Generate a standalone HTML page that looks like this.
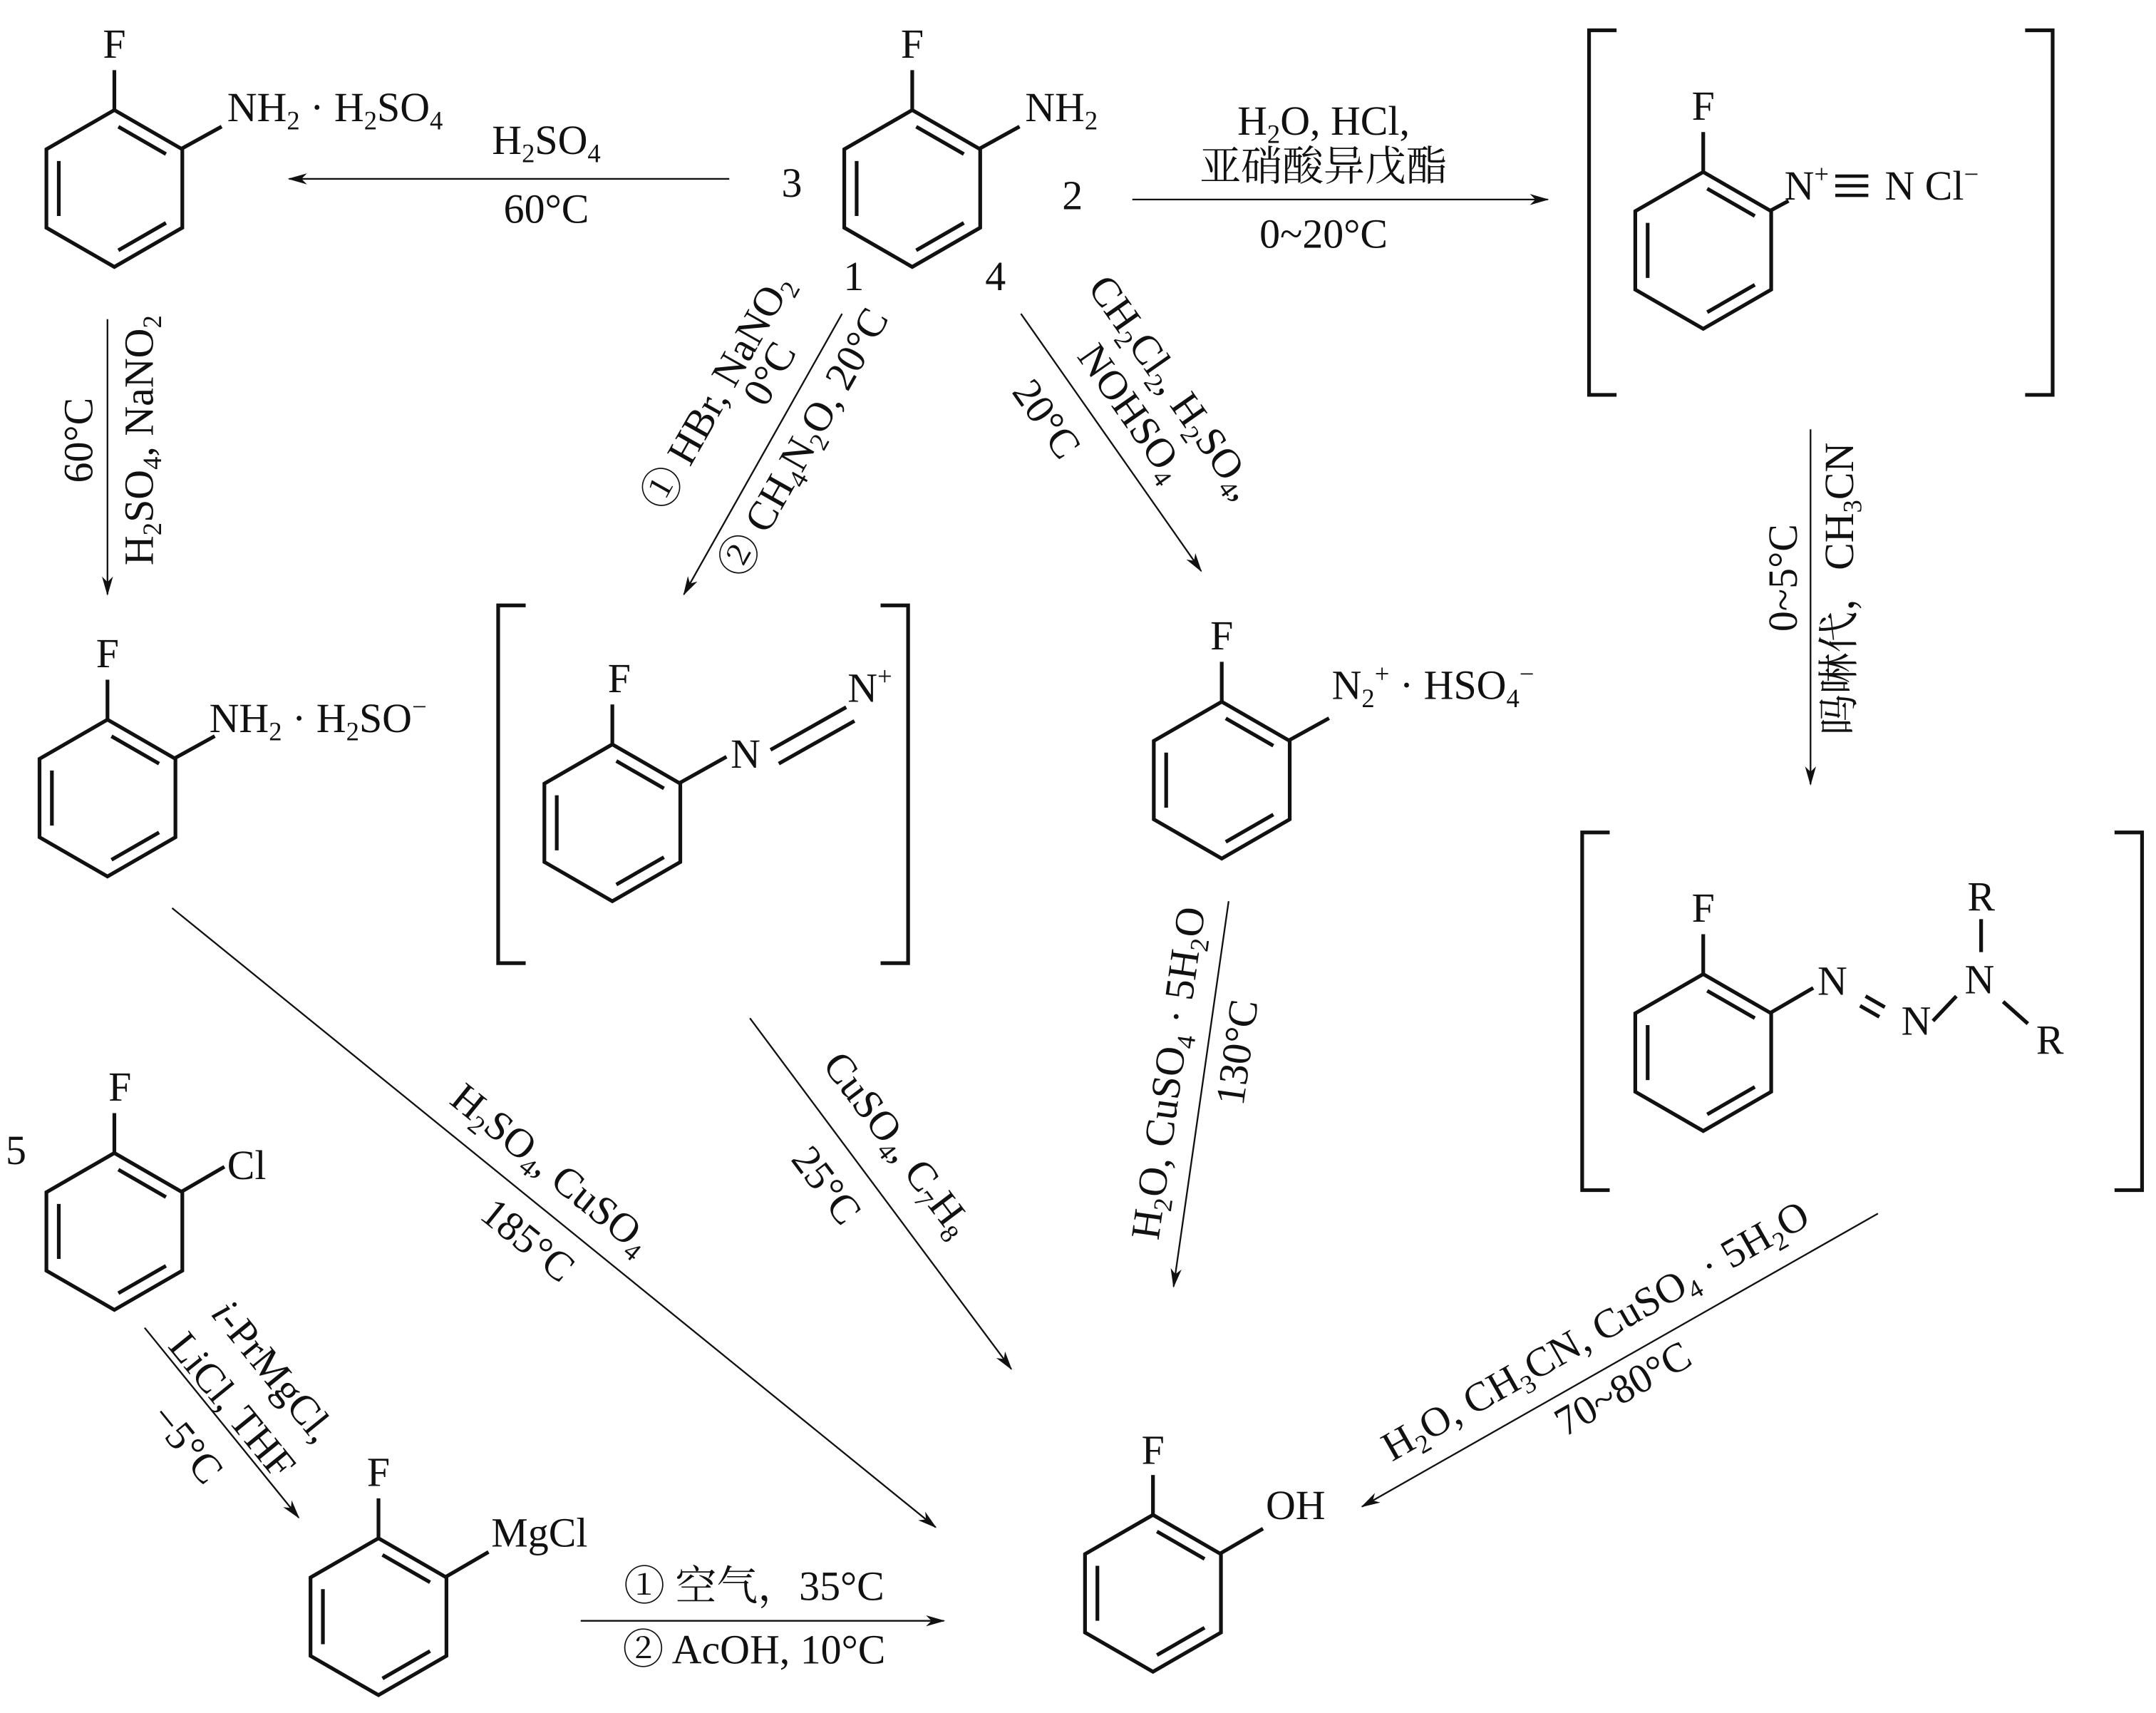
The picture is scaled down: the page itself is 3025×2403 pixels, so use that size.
<!DOCTYPE html>
<html><head><meta charset="utf-8"><style>
html,body{margin:0;padding:0;background:#fff;}
svg{display:block;}
text{font-family:"Liberation Serif","Noto Serif CJK SC",serif;font-size:30px;fill:#111;}
.s{font-size:19px;}
</style></head><body>
<svg width="3025" height="2403" viewBox="0 0 1567 1245" xmlns="http://www.w3.org/2000/svg">
<defs>
<symbol id="ring" overflow="visible">
<g fill="none" stroke="#111" stroke-width="2.7" stroke-linejoin="miter">
<polygon points="0,-57 49.4,-28.5 49.4,28.5 0,57 -49.4,28.5 -49.4,-28.5"/>
<line x1="2.9" y1="-44.9" x2="37.5" y2="-25"/>
<line x1="37.5" y1="25" x2="2.9" y2="44.9"/>
<line x1="-40.4" y1="-20" x2="-40.4" y2="20"/>
<line x1="0" y1="-57" x2="0" y2="-86"/>
</g>
</symbol>
<marker id="ah" markerWidth="14" markerHeight="10" refX="13" refY="5" orient="auto" markerUnits="userSpaceOnUse">
<path d="M0,1 L14,5 L0,9 L4,5 Z" fill="#111"/>
</marker>
</defs>

<g stroke="#111" stroke-width="1.2" fill="none" marker-end="url(#ah)">
<line x1="530" y1="130" x2="210" y2="130"/>
<line x1="823" y1="145" x2="1125" y2="145"/>
<line x1="78" y1="232" x2="78" y2="432"/>
<line x1="612" y1="228" x2="497" y2="432"/>
<line x1="742" y1="228" x2="873" y2="415"/>
<line x1="1316" y1="312" x2="1316" y2="570"/>
<line x1="125" y1="660" x2="680" y2="1110"/>
<line x1="545" y1="740" x2="735" y2="995"/>
<line x1="893" y1="655" x2="853" y2="935"/>
<line x1="1365" y1="882" x2="990" y2="1095"/>
<line x1="105" y1="965" x2="217" y2="1103"/>
<line x1="422" y1="1178" x2="686" y2="1178"/>
</g>

<g stroke="#111" stroke-width="2.7" fill="none">
<polyline points="1175,22 1155,22 1155,287 1175,287"/>
<polyline points="1472,22 1492,22 1492,287 1472,287"/>
<polyline points="382,440 362,440 362,700 382,700"/>
<polyline points="640,440 660,440 660,700 640,700"/>
<polyline points="1170,605 1150,605 1150,865 1170,865"/>
<polyline points="1537,605 1557,605 1557,865 1537,865"/>
</g>

<use href="#ring" x="83" y="137"/>
<use href="#ring" x="663" y="137"/>
<use href="#ring" x="1238" y="182"/>
<use href="#ring" x="78" y="580"/>
<use href="#ring" x="445" y="598"/>
<use href="#ring" x="888" y="567"/>
<use href="#ring" x="1238" y="765"/>
<use href="#ring" x="83" y="895"/>
<use href="#ring" x="275" y="1175"/>
<use href="#ring" x="838" y="1158"/>

<g stroke="#111" stroke-width="2.7" fill="none">
<line x1="132" y1="108" x2="161" y2="92"/>
<line x1="712" y1="108" x2="741" y2="92"/>
<line x1="1287" y1="153" x2="1300" y2="146"/>
<line x1="127" y1="551" x2="156" y2="535"/>
<line x1="494" y1="569" x2="528" y2="550"/>
<line x1="560" y1="545" x2="615" y2="514"/>
<line x1="566" y1="555" x2="621" y2="524"/>
<line x1="937" y1="538" x2="966" y2="522"/>
<line x1="1287" y1="736" x2="1318" y2="718"/>
<line x1="1356" y1="724" x2="1370" y2="732"/>
<line x1="1352" y1="731" x2="1366" y2="739"/>
<line x1="1405" y1="742" x2="1422" y2="724"/>
<line x1="1440" y1="668" x2="1440" y2="692"/>
<line x1="1456" y1="728" x2="1474" y2="744"/>
<line x1="132" y1="866" x2="163" y2="848"/>
<line x1="324" y1="1146" x2="355" y2="1128"/>
<line x1="887" y1="1129" x2="918" y2="1111"/>
</g>
<g stroke="#111" stroke-width="2.4">
<line x1="1334" y1="128" x2="1358" y2="128"/>
<line x1="1334" y1="135" x2="1358" y2="135"/>
<line x1="1334" y1="142" x2="1358" y2="142"/>
</g>

<g text-anchor="middle">
<text x="83" y="42">F</text>
<text x="663" y="42">F</text>
<text x="1238" y="87">F</text>
<text x="78" y="485">F</text>
<text x="450" y="503">F</text>
<text x="888" y="472">F</text>
<text x="1238" y="670">F</text>
<text x="87" y="800">F</text>
<text x="275" y="1080">F</text>
<text x="838" y="1064">F</text>
</g>
<text x="165" y="88">NH<tspan class="s" dy="6">2</tspan><tspan dy="-6"> · H</tspan><tspan class="s" dy="6">2</tspan><tspan dy="-6">SO</tspan><tspan class="s" dy="6">4</tspan></text>
<text x="745" y="88">NH<tspan class="s" dy="6">2</tspan></text>
<text x="1297" y="145">N<tspan class="s" dy="-12">+</tspan></text>
<text x="1370" y="145">N Cl<tspan class="s" dy="-12">−</tspan></text>
<text x="152" y="532">NH<tspan class="s" dy="6">2</tspan><tspan dy="-6"> · H</tspan><tspan class="s" dy="6">2</tspan><tspan dy="-6">SO</tspan><tspan class="s" dy="-12">−</tspan></text>
<text x="531" y="558">N</text>
<text x="616" y="510">N<tspan class="s" dy="-12">+</tspan></text>
<text x="968" y="508">N<tspan class="s" dy="6">2</tspan><tspan class="s" dy="-18">+</tspan><tspan dy="12"> · HSO</tspan><tspan class="s" dy="6">4</tspan><tspan class="s" dy="-18">−</tspan></text>
<text x="1321" y="723">N</text>
<text x="1382" y="752">N</text>
<text x="1428" y="722">N</text>
<text x="1430" y="662">R</text>
<text x="1480" y="766">R</text>
<text x="165" y="857">Cl</text>
<text x="357" y="1124">MgCl</text>
<text x="920" y="1104">OH</text>

<text x="568" y="143">3</text>
<text x="772" y="152">2</text>
<text x="613" y="211">1</text>
<text x="716" y="211">4</text>
<text x="4" y="846">5</text>

<g text-anchor="middle">
<text x="397" y="112">H<tspan class="s" dy="6">2</tspan><tspan dy="-6">SO</tspan><tspan class="s" dy="6">4</tspan></text>
<text x="397" y="162">60°C</text>
<text x="962" y="98">H<tspan class="s" dy="6">2</tspan><tspan dy="-6">O, HCl,</tspan></text>
<text x="962" y="131">亚硝酸异戊酯</text>
<text x="962" y="180">0~20°C</text>
<text x="548" y="1163">① 空气，35°C</text>
<text x="548" y="1209">② AcOH, 10°C</text>

<text transform="translate(58,320) rotate(-90)" dy="9">60°C</text>
<text transform="translate(102,320) rotate(-90)" dy="9">H<tspan class="s" dy="6">2</tspan><tspan dy="-6">SO</tspan><tspan class="s" dy="6">4</tspan><tspan dy="-6">, NaNO</tspan><tspan class="s" dy="6">2</tspan></text>

<text transform="translate(1297,420) rotate(-90)" dy="9">0~5°C</text>
<text transform="translate(1338,428) rotate(-90)" dy="9">吗啉代，CH<tspan class="s" dy="6">3</tspan><tspan dy="-6">CN</tspan></text>

<text transform="translate(522,285) rotate(-60.6)" dy="9">① HBr, NaNO<tspan class="s" dy="6">2</tspan></text>
<text transform="translate(560,272) rotate(-60.6)" dy="9">0°C</text>
<text transform="translate(585,322) rotate(-60.6)" dy="9">② CH<tspan class="s" dy="6">4</tspan><tspan dy="-6">N</tspan><tspan class="s" dy="6">2</tspan><tspan dy="-6">O, 20°C</tspan></text>

<text transform="translate(852,282) rotate(55)" dy="9">CH<tspan class="s" dy="6">2</tspan><tspan dy="-6">Cl</tspan><tspan class="s" dy="6">2</tspan><tspan dy="-6">, H</tspan><tspan class="s" dy="6">2</tspan><tspan dy="-6">SO</tspan><tspan class="s" dy="6">4</tspan><tspan dy="-6">,</tspan></text>
<text transform="translate(822,300) rotate(55)" dy="9">NOHSO<tspan class="s" dy="6">4</tspan></text>
<text transform="translate(760,305) rotate(55)" dy="9">20°C</text>

<text transform="translate(400,850) rotate(39)" dy="9">H<tspan class="s" dy="6">2</tspan><tspan dy="-6">SO</tspan><tspan class="s" dy="6">4</tspan><tspan dy="-6">, CuSO</tspan><tspan class="s" dy="6">4</tspan></text>
<text transform="translate(383,902) rotate(39)" dy="9">185°C</text>

<text transform="translate(652,832) rotate(53)" dy="9">CuSO<tspan class="s" dy="6">4</tspan><tspan dy="-6">, C</tspan><tspan class="s" dy="6">7</tspan><tspan dy="-6">H</tspan><tspan class="s" dy="6">8</tspan></text>
<text transform="translate(600,862) rotate(53)" dy="9">25°C</text>

<text transform="translate(850,780) rotate(-82)" dy="9">H<tspan class="s" dy="6">2</tspan><tspan dy="-6">O, CuSO</tspan><tspan class="s" dy="6">4</tspan><tspan dy="-6"> · 5H</tspan><tspan class="s" dy="6">2</tspan><tspan dy="-6">O</tspan></text>
<text transform="translate(900,765) rotate(-82)" dy="9">130°C</text>

<text transform="translate(1160,968) rotate(-29.6)" dy="9">H<tspan class="s" dy="6">2</tspan><tspan dy="-6">O, CH</tspan><tspan class="s" dy="6">3</tspan><tspan dy="-6">CN, CuSO</tspan><tspan class="s" dy="6">4</tspan><tspan dy="-6"> · 5H</tspan><tspan class="s" dy="6">2</tspan><tspan dy="-6">O</tspan></text>
<text transform="translate(1180,1010) rotate(-29.6)" dy="9">70~80°C</text>

<text transform="translate(198,997) rotate(51)" dy="9"><tspan font-style="italic">i</tspan>-PrMgCl,</text>
<text transform="translate(168,1022) rotate(51)" dy="9">LiCl, THF</text>
<text transform="translate(135,1050) rotate(51)" dy="9">−5°C</text>
</g>
</svg>
</body></html>
